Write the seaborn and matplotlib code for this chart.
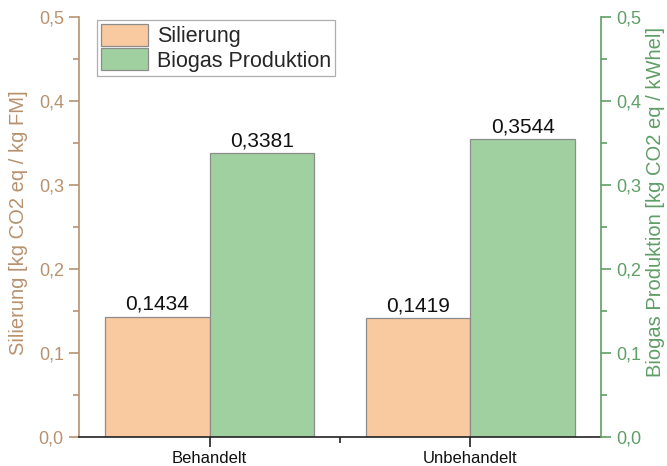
import matplotlib
matplotlib.use("Agg")
import matplotlib.pyplot as plt
from matplotlib.ticker import MultipleLocator, FuncFormatter, FixedLocator
import seaborn as sns
import pandas as pd

# Werte
kategorien = ["Behandelt", "Unbehandelt"]
silierung = [0.1434, 0.1419]
biogas = [0.3381, 0.3544]
serien = ["Silierung", "Biogas Produktion"]

farbe_sil = "#F9C9A0"
farbe_bio = "#A0D0A0"
achse_sil = "#B8926F"
achse_bio = "#5F9E66"

sns.set_theme(style="white")
plt.rcParams["font.family"] = ["Liberation Sans", "DejaVu Sans"]

df = pd.DataFrame({
    "Kategorie": kategorien * 2,
    "Wert": silierung + biogas,
    "Serie": [serien[0]] * len(kategorien) + [serien[1]] * len(kategorien),
})

fig = plt.figure(figsize=(6.67, 4.66), dpi=100)
ax = fig.add_axes([0.1185, 0.0622, 0.7825, 0.9013])

sns.barplot(data=df, x="Kategorie", y="Wert", hue="Serie", hue_order=serien,
            palette=[farbe_sil, farbe_bio], width=0.8, edgecolor="#8C8C8C",
            linewidth=0.9, ax=ax, saturation=1)

ax.set_xlim(-0.5, 1.5)
ax.set_ylim(0, 0.5)
ax2 = ax.twinx()
ax2.set_ylim(0, 0.5)

komma = FuncFormatter(lambda v, p: f"{v:.1f}".replace(".", ","))

for a in (ax, ax2):
    a.yaxis.set_major_locator(MultipleLocator(0.1))
    a.yaxis.set_minor_locator(MultipleLocator(0.05))
    a.yaxis.set_major_formatter(komma)
    a.spines["top"].set_visible(False)

ax.spines["right"].set_visible(False)
ax.spines["left"].set_color(achse_sil)
ax.spines["bottom"].set_color("#222222")
ax2.spines["left"].set_visible(False)
ax2.spines["bottom"].set_visible(False)
ax2.spines["right"].set_color(achse_bio)
for s in ("left", "bottom"):
    ax.spines[s].set_linewidth(1.2)
ax2.spines["right"].set_linewidth(1.2)

ax.tick_params(axis="y", which="major", direction="out", length=7, width=1.2,
               color=achse_sil, labelcolor=achse_sil, labelsize=13, pad=4, left=True)
ax.tick_params(axis="y", which="minor", direction="out", length=4, width=1.2,
               color=achse_sil, left=True)
ax2.tick_params(axis="y", which="major", direction="out", length=7, width=1.2,
                color=achse_bio, labelcolor=achse_bio, labelsize=13, pad=4, right=True)
ax2.tick_params(axis="y", which="minor", direction="out", length=4, width=1.2,
                color=achse_bio, right=True)
ax.xaxis.set_minor_locator(FixedLocator([0.5]))
ax.tick_params(axis="x", which="major", direction="out", length=7, width=1.2,
               color="#222222", labelcolor="#111111", labelsize=12, pad=3, bottom=True)
ax.tick_params(axis="x", which="minor", direction="out", length=4, width=1.2,
               color="#222222", bottom=True)

ax.set_xlabel("")
ax.set_ylabel("Silierung [kg CO2 eq / kg FM]", color=achse_sil, fontsize=14.5, labelpad=8)
ax2.set_ylabel("Biogas Produktion [kg CO2 eq / kWhel]", color=achse_bio, fontsize=14.5,
               labelpad=3)
ax.yaxis.label.set_y(0.51)
ax2.yaxis.label.set_y(0.56)

for cont in ax.containers:
    ax.bar_label(cont, labels=[f"{v:.4f}".replace(".", ",") for v in cont.datavalues],
                 fontsize=15, padding=2, color="#111111")

leg = ax.legend(loc="upper left", bbox_to_anchor=(0.034, 0.994), borderaxespad=0,
                fontsize=15.5, frameon=True, fancybox=False, edgecolor="#9A9A9A",
                handlelength=2.2, handleheight=1.2, labelspacing=0.05,
                borderpad=0.2, handletextpad=0.4)
leg.get_frame().set_linewidth(0.9)

fig.savefig("out.png", dpi=100)
